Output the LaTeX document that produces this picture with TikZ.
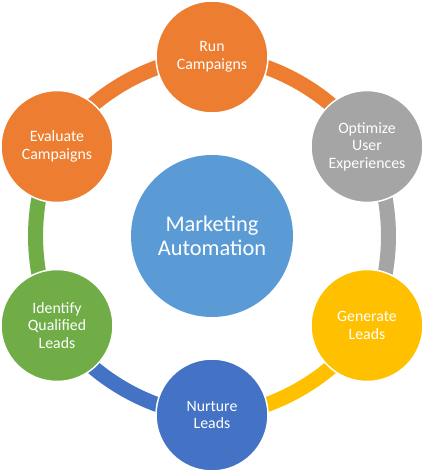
\documentclass[tikz,border=0pt]{standalone}
\usepackage{fontspec}
\setmainfont{Carlito}
\definecolor{orng}{HTML}{ED7D31}
\definecolor{gry}{HTML}{A5A5A5}
\definecolor{ylw}{HTML}{FFC000}
\definecolor{blu}{HTML}{4472C4}
\definecolor{grn}{HTML}{70AD47}
\definecolor{lblu}{HTML}{5B9BD5}
\pgfdeclarelayer{bg}
\pgfsetlayers{bg,main}
\begin{document}
\begin{tikzpicture}[x=1pt,y=1pt,
  stage/.style={circle, draw=white, line width=1.5pt, minimum size=112pt, inner sep=0pt,
    text=white, align=center, font=\fontsize{15.8}{17.5}\selectfont},
  hub/.style={circle, fill=lblu, minimum size=162pt, inner sep=0pt,
    text=white, align=center, font=\fontsize{22.4}{24.5}\selectfont},
  band/.style={line width=15pt, bend left=30, looseness=0.82}]
\useasboundingbox (0,0) rectangle (424,472);
\node[hub] (hub) at (212,236) {Marketing\\Automation};
\node[stage, fill=orng] (run) at (212,415) {Run\\Campaigns};
\node[stage, fill=gry] (opt) at (367,325.5) {Optimize\\User\\Experiences};
\node[stage, fill=ylw] (gen) at (367,146.5) {Generate\\Leads};
\node[stage, fill=blu] (nur) at (212,57) {Nurture\\Leads};
\node[stage, fill=grn] (ide) at (57,146.5) {Identify\\Qualified\\Leads};
\node[stage, fill=orng] (eva) at (57,325.5) {Evaluate\\Campaigns};
\begin{pgfonlayer}{bg}
\draw[band, orng] (run.center) to (opt.center);
\draw[band, gry] (opt.center) to (gen.center);
\draw[band, ylw] (gen.center) to (nur.center);
\draw[band, blu] (nur.center) to (ide.center);
\draw[band, grn] (ide.center) to (eva.center);
\draw[band, orng] (eva.center) to (run.center);
\end{pgfonlayer}
\end{tikzpicture}
\end{document}
